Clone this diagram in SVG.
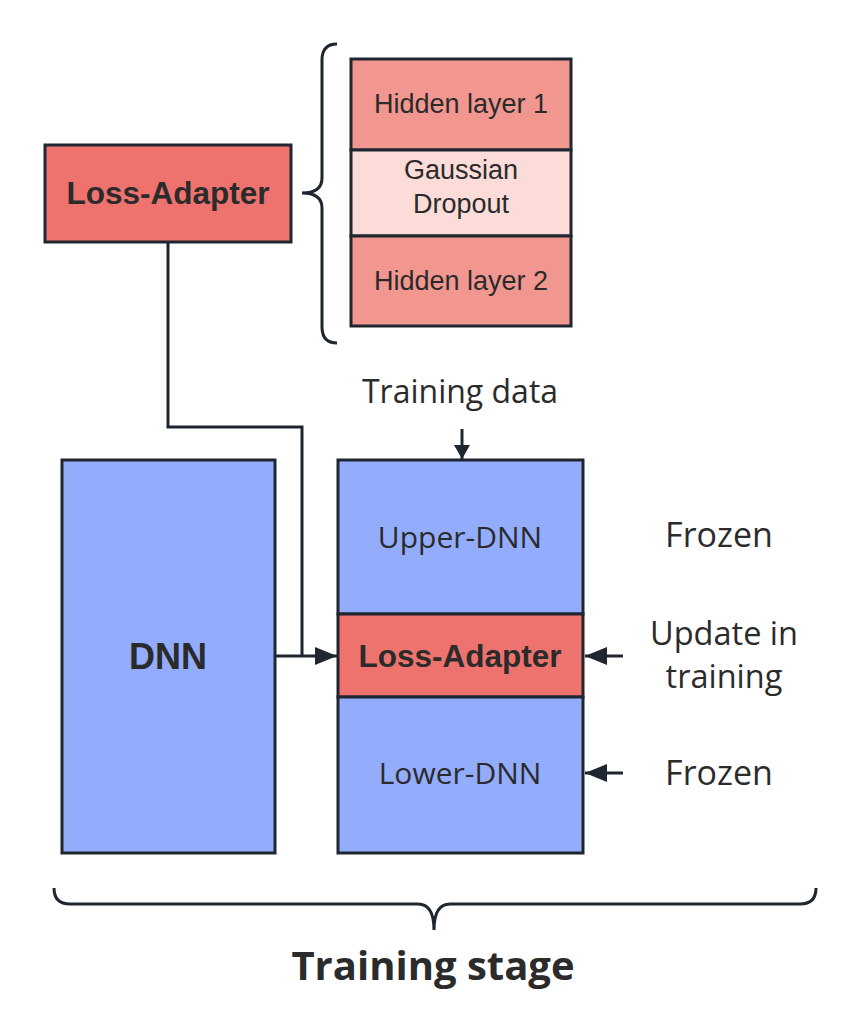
<svg xmlns="http://www.w3.org/2000/svg" width="860" height="1033" viewBox="0 0 860 1033">
<style>
.box{stroke:#1f2630;stroke-width:3}
.blue{fill:#93adfc}
.red{fill:#ee736e}
.pink{fill:#f29790}
.light{fill:#fbdcd8}
.line{fill:none;stroke:#1f2630;stroke-width:3}
.t{font-family:"Open Sans","Noto Sans",sans-serif;fill:#2b2b2b;text-anchor:middle}
.a{font-family:"Liberation Sans",Arial,sans-serif;fill:#2b2b2b;text-anchor:middle}
.b{font-family:"Liberation Sans",Arial,sans-serif;font-weight:bold;fill:#2b2b2b;text-anchor:middle}
</style>
<defs>
<marker id="arr" markerUnits="userSpaceOnUse" markerWidth="24" markerHeight="18" refX="22" refY="9" orient="auto">
<path d="M0,0 L22,9 L0,18 Z" fill="#1f2630"/>
</marker>
<marker id="arrs" markerUnits="userSpaceOnUse" markerWidth="14" markerHeight="16" refX="14" refY="8" orient="auto">
<path d="M0,0 L14,8 L0,16 Z" fill="#1f2630"/>
</marker>
</defs>
<rect width="860" height="1033" fill="#ffffff"/>

<g id="connectors">
<path class="line" d="M168,242 V427 H302 V656"/>
<path class="line" d="M275,656 H337" marker-end="url(#arr)"/>
<path class="line" d="M623,656 H585" marker-end="url(#arr)"/>
<path class="line" d="M623,773 H585" marker-end="url(#arr)"/>
<path class="line" d="M462,429 V459" marker-end="url(#arrs)"/>
</g>

<g id="loss-adapter-top">
<rect class="box red" x="45" y="145" width="246" height="97"/>
<text class="b" x="168" y="204" font-size="31.5">Loss-Adapter</text>
</g>

<g id="brace-top">
<path class="line" d="M337,44 Q322,44 322,60 L322,178 Q322,193 302,193 Q322,193 322,208 L322,327 Q322,343 337,343"/>
</g>

<g id="hidden-layer-1">
<rect class="box pink" x="351" y="59" width="220" height="91"/>
<text class="a" x="461" y="113" font-size="27">Hidden layer 1</text>
</g>
<g id="gaussian-dropout">
<rect class="box light" x="351" y="150" width="220" height="86"/>
<text class="a" x="461" y="179" font-size="27">Gaussian</text>
<text class="a" x="461" y="213" font-size="27">Dropout</text>
</g>
<g id="hidden-layer-2">
<rect class="box pink" x="351" y="236" width="220" height="90"/>
<text class="a" x="461" y="290" font-size="27">Hidden layer 2</text>
</g>

<g id="training-data">
<text class="t" x="460" y="403" font-size="32">Training data</text>
</g>

<g id="dnn">
<rect class="box blue" x="62" y="460" width="213" height="393"/>
<text class="b" x="168" y="669" font-size="36">DNN</text>
</g>

<g id="upper-dnn">
<rect class="box blue" x="338" y="460" width="245" height="154"/>
<text class="t" x="460" y="548" font-size="30">Upper-DNN</text>
</g>
<g id="loss-adapter">
<rect class="box red" x="338" y="614" width="245" height="83"/>
<text class="b" x="460" y="667" font-size="31.5">Loss-Adapter</text>
</g>
<g id="lower-dnn">
<rect class="box blue" x="338" y="697" width="245" height="156"/>
<text class="t" x="460" y="784" font-size="30">Lower-DNN</text>
</g>

<g id="labels">
<text class="t" x="719" y="547" font-size="34">Frozen</text>
<text class="t" x="724" y="645" font-size="32.5">Update in</text>
<text class="t" x="724" y="688" font-size="32.5">training</text>
<text class="t" x="719" y="785" font-size="34">Frozen</text>
</g>

<g id="brace-bottom">
<path class="line" d="M54,888 Q54,904 70,904 L418,904 Q434,904 434,930 Q434,904 450,904 L800,904 Q816,904 816,888"/>
<text class="t" x="433" y="980" font-size="40" font-weight="bold">Training stage</text>
</g>
</svg>
